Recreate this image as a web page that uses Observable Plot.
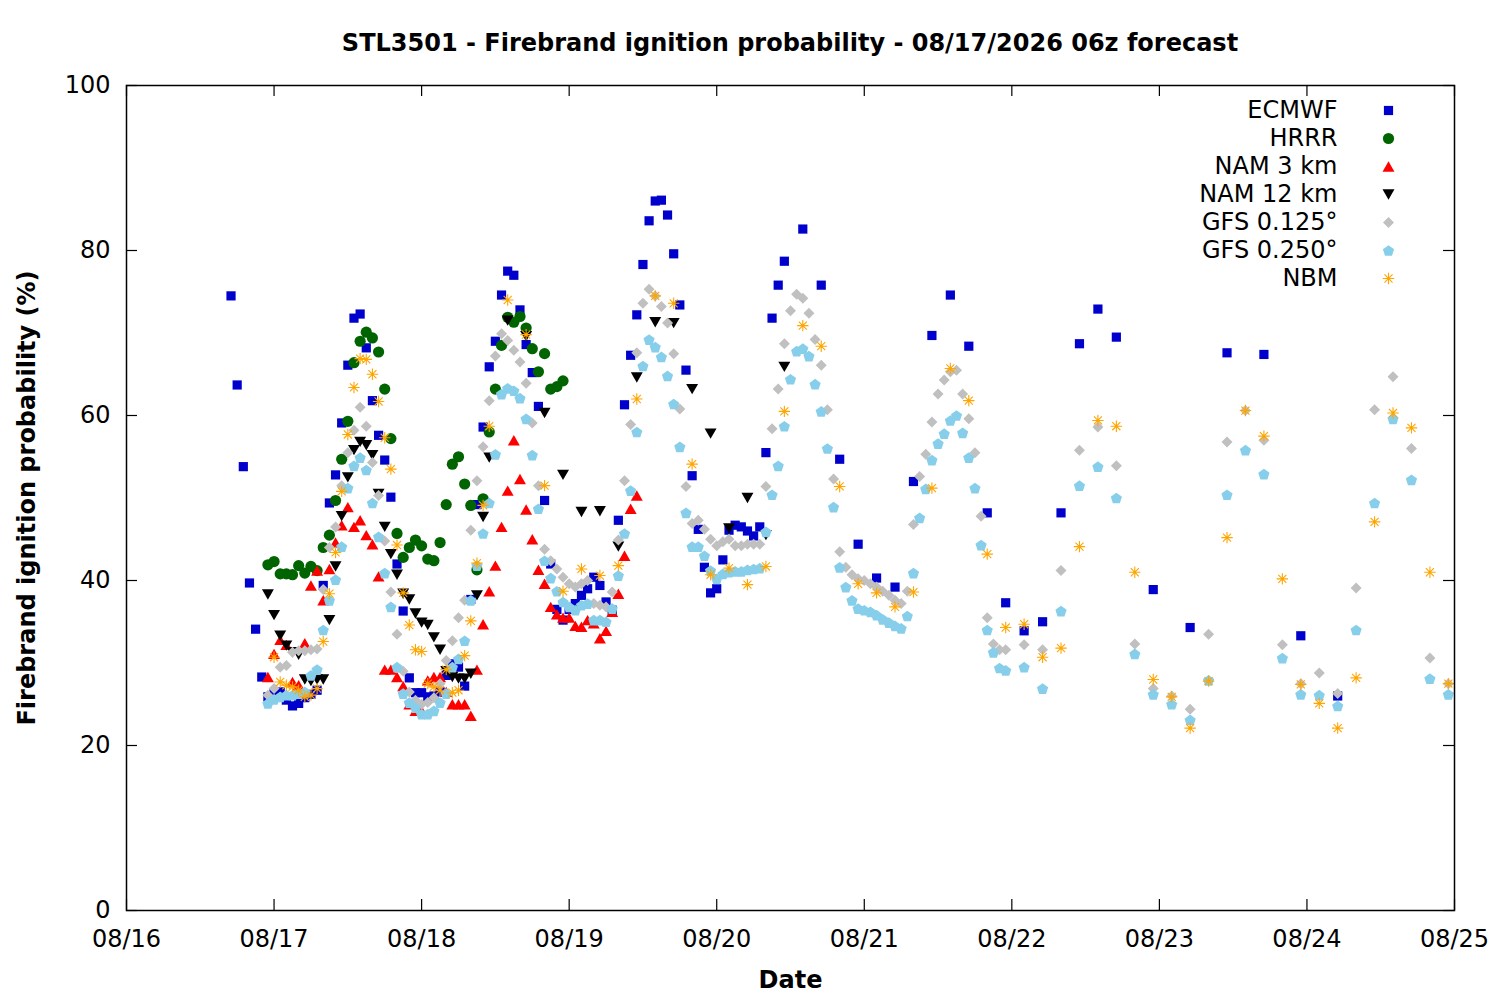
<!DOCTYPE html>
<html>
<head>
<meta charset="utf-8">
<script src="https://cdn.jsdelivr.net/npm/d3@7"></script>
<script src="https://cdn.jsdelivr.net/npm/@observablehq/plot@0.6"></script>
<style>
  body { margin: 0; background: #fff; font-family: "DejaVu Sans", sans-serif; }
  #title { margin-left: 126px; width: 1328px; height: 60px; line-height: 86px; text-align: center;
           font-weight: bold; font-size: 24px; white-space: nowrap; overflow: visible; }
  #chart svg { display: block; }
</style>
</head>
<body>
<div id="title">STL3501 - Firebrand ignition probability - 08/17/2026 06z forecast</div>
<div id="chart"></div>
<script>
// ---------- data (hours after 08/16 00:00, values in %) ----------
const seriesNames = ["ECMWF", "HRRR", "NAM 3 km", "NAM 12 km", "GFS 0.125°", "GFS 0.250°", "NBM"];
const dayTickLabels = ["08/16","08/17","08/18","08/19","08/20","08/21","08/22","08/23","08/24","08/25"];
const yTicks = [0, 20, 40, 60, 80, 100];

const ecmwfHours = [...d3.range(17, 108), ...d3.range(110, 162, 3), ...d3.range(167, 198, 6)];
const ecmwfValues = [
  74.5, 63.7, 53.8, 39.7, 34.1, 28.3, 25.9, 26.3, 26.5, 25.5,
  24.8, 25.1, 25.8, 26.2, 26.7, 39.4, 49.4, 52.8, 59.1, 66.1,
  71.8, 72.3, 68.2, 61.8, 57.6, 54.6, 50.1, 42.0, 36.3, 28.2,
  26.4, 26.4, 25.9, 26.0, 26.5, 28.5, 29.9, 29.5, 27.2, 37.7,
  49.2, 58.6, 65.9, 69.0, 74.6, 77.5, 77.0, 72.8, 68.6, 65.2,
  61.1, 49.7, 42.0, 36.5, 35.2, 36.5, 37.2, 38.2, 39.0, 40.4,
  39.4, 37.4, 36.4, 47.3, 61.3, 67.3, 72.2, 78.3, 83.6, 86.0,
  86.1, 84.3, 79.6, 73.4, 65.5, 52.7, 46.2, 41.6, 38.5, 39.0,
  42.5, 46.1, 46.7, 46.5, 46.0, 45.4, 46.5, 55.5, 71.8, 75.8,
  78.7,
  82.6, 75.8, 54.7, 44.4, 40.3, 39.2, 52.0, 69.7, 74.6, 68.4,
  48.2, 37.3, 33.9, 35.0, 48.2, 68.7, 72.9, 69.5,
  38.9, 34.3, 67.6, 67.4, 33.3, 26.0
];

const hrrrHours = d3.range(23, 72);
const hrrrValues = [
  41.9, 42.3, 40.8, 40.8, 40.7, 41.8, 40.9, 41.7, 41.2, 44.0,
  45.5, 49.7, 54.7, 59.3, 66.4, 69.0, 70.1, 69.4, 67.7, 63.2,
  57.2, 45.7, 42.8, 44.0, 44.9, 44.2, 42.6, 42.4, 44.6, 49.2,
  54.1, 55.0, 51.7, 49.1, 41.3, 49.9, 58.0, 63.2, 68.5, 71.9,
  71.3, 72.0, 70.6, 68.1, 65.3, 67.5, 63.2, 63.5, 64.2
];

const nam3Hours = d3.range(23, 84);
const nam3Values = [
  28.3, 31.1, 32.8, 32.2, 27.7, 27.3, 32.4, 39.4, 41.2, 37.6,
  41.4, 44.6, 46.7, 48.9, 46.5, 47.3, 45.5, 44.4, 40.5, 29.2,
  29.2, 28.3, 27.2, 25.0, 24.2, 24.2, 27.9, 28.3, 28.3, 26.5,
  25.0, 25.0, 25.0, 23.6, 29.2, 34.7, 38.7, 41.8, 46.5, 50.9,
  57.0, 52.3, 48.6, 45.0, 41.3, 39.6, 36.8, 35.9, 35.5, 35.5,
  34.5, 34.4, 35.2, 34.8, 33.0, 33.9, 36.2, 38.4, 43.0, 48.7,
  50.3
];

const nam12Hours = [...d3.range(23, 60), ...d3.range(62, 108, 3)];
const nam12Values = [
  38.3, 35.8, 33.3, 32.1, 31.3, 31.0, 28.0, 27.8, 28.0, 28.0,
  35.2, 41.7, 47.8, 52.5, 55.8, 56.8, 56.4, 55.2, 50.5, 46.5,
  43.2, 40.7, 38.4, 37.7, 36.0, 34.9, 34.6, 33.1, 31.6, 29.0,
  28.3, 28.1, 28.1, 28.7, 38.2, 47.7, 54.9,
  71.5, 69.6, 60.3, 52.8, 48.3, 48.4, 44.1, 64.6, 71.3, 71.2,
  63.2, 57.8, 46.3, 50.0, 45.5, 65.9
];

const gfs125Hours = [...d3.range(23, 144), ...d3.range(146, 216, 3)];
const gfs125Values = [
  26.1, 26.9, 29.5, 29.7, 31.3, 31.5, 31.5, 31.6, 31.7, 38.9,
  44.0, 46.5, 51.5, 55.5, 58.2, 61.0, 58.7, 54.3, 50.3, 44.8,
  38.6, 33.5, 29.0, 26.5, 25.5, 25.0, 25.2, 25.8, 27.5, 30.3,
  32.7, 35.5, 37.6, 46.1, 52.1, 56.2, 61.8, 67.2, 69.9, 69.1,
  67.9, 66.5, 63.9, 59.1, 51.5, 43.8, 42.4, 41.4, 40.4, 39.6,
  39.2, 39.6, 40.0, 37.2, 37.0, 36.8, 38.6, 44.9, 52.1, 58.9,
  67.6, 73.6, 75.3, 74.5, 73.2, 71.2, 67.5, 60.8, 51.4, 46.9,
  47.3, 46.2, 45.0, 44.2, 44.7, 45.0, 44.2, 44.2, 44.4, 44.4,
  44.4, 51.4, 58.4, 63.2, 68.7, 72.7, 74.7, 74.2, 72.4, 69.2,
  66.1, 60.7, 52.3, 43.5, 41.6, 40.7, 40.2, 40.0, 39.6, 39.2,
  38.7, 38.2, 37.6, 37.2, 38.7, 46.8, 52.6, 55.3, 59.2, 62.6,
  64.3, 65.3, 65.5, 62.6, 59.6, 55.5, 47.8, 35.5, 32.3, 31.6,
  31.6,
  32.2, 31.6, 41.2, 55.8, 58.6, 53.9, 32.3, 26.9, 26.0, 24.4,
  33.5, 56.8, 60.6, 57.0, 32.2, 27.5, 28.8, 26.3, 39.1, 60.7,
  64.7, 56.0, 30.6, 27.5
];

const gfs250Hours = [...d3.range(23, 144), ...d3.range(146, 216, 3)];
const gfs250Values = [
  25.1, 25.6, 25.9, 26.1, 26.1, 26.3, 26.5, 28.5, 29.2, 34.0,
  37.6, 40.1, 44.1, 51.2, 53.9, 54.9, 53.4, 49.4, 45.3, 40.9,
  36.8, 29.5, 26.3, 25.2, 24.6, 23.8, 23.8, 24.2, 25.2, 26.3,
  29.5, 30.5, 32.7, 37.6, 41.8, 45.7, 49.4, 55.3, 62.6, 63.3,
  63.0, 62.1, 59.6, 55.2, 48.7, 42.4, 40.3, 38.7, 37.4, 36.8,
  36.4, 37.0, 37.2, 35.2, 35.2, 35.0, 36.6, 40.6, 45.7, 50.9,
  58.0, 66.0, 69.2, 68.3, 67.1, 64.8, 61.4, 56.2, 48.2, 44.1,
  44.1, 43.0, 41.2, 40.2, 40.8, 41.0, 41.1, 41.1, 41.3, 41.4,
  41.5, 45.9, 50.4, 53.9, 58.7, 64.4, 67.8, 68.1, 67.2, 63.8,
  60.5, 56.0, 48.9, 41.6, 39.2, 37.6, 36.6, 36.4, 36.2, 35.8,
  35.3, 34.9, 34.5, 34.2, 35.7, 40.9, 47.6, 51.1, 54.6, 56.6,
  57.8, 59.4, 60.0, 57.9, 54.9, 51.2, 44.3, 34.0, 31.3, 29.4,
  29.1,
  29.5, 26.9, 36.3, 51.5, 53.8, 50.0, 31.1, 26.2, 25.0, 23.1,
  27.9, 50.4, 55.8, 52.9, 30.6, 26.2, 26.1, 24.8, 34.0, 49.4,
  59.6, 52.2, 28.1, 26.2
];

const nbmHours = [...d3.range(24, 60), ...d3.range(62, 216, 3)];
const nbmValues = [
  30.7, 27.7, 27.3, 27.1, 26.7, 25.9, 26.1, 26.9, 32.6, 38.4,
  43.4, 50.8, 57.7, 63.4, 66.9, 66.8, 65.0, 61.7, 57.3, 53.5,
  44.3, 38.5, 34.6, 31.6, 31.4, 27.5, 27.1, 26.7, 29.2, 26.4,
  26.7, 30.9, 35.1, 42.1, 49.1, 58.7,
  74.0, 69.8, 51.5, 38.7, 41.4, 40.6, 41.8, 62.0, 74.5, 73.6,
  54.1, 40.7, 41.5, 39.5, 41.7, 60.5, 70.9, 68.4, 51.4, 39.6,
  38.5, 36.8, 38.6, 51.2, 65.7, 61.8, 43.2, 34.3, 34.7, 30.7,
  31.8, 44.1, 59.4, 58.7, 41.0, 28.0, 25.9, 22.1, 27.8, 45.2,
  60.6, 57.5, 40.2, 27.4, 25.1, 22.1, 28.2, 47.1, 60.3, 58.5,
  41.0, 27.5
];

// ---------- helpers ----------
const base = Date.UTC(2026, 7, 16);
const toDate = h => new Date(base + h * 3600e3);
const rows = (hours, values) => hours.map((h, i) => ({t: toDate(h), v: values[i]}));
const dayTicks = dayTickLabels.map((s, i) => toDate(24 * i));

const sym = fn => ({draw(c, size) { const r = Math.sqrt(size / Math.PI); fn(c, r); }});
const symSquare = sym((c, r) => { c.rect(-r, -r, 2 * r, 2 * r); });
const symCircle = sym((c, r) => { c.moveTo(r, 0); c.arc(0, 0, r, 0, 2 * Math.PI); });
const symTriUp = sym((c, r) => { c.moveTo(0, -0.75 * r); c.lineTo(0.866 * r, 0.75 * r); c.lineTo(-0.866 * r, 0.75 * r); c.closePath(); });
const symTriDown = sym((c, r) => { c.moveTo(0, 0.75 * r); c.lineTo(0.866 * r, -0.75 * r); c.lineTo(-0.866 * r, -0.75 * r); c.closePath(); });
const symDiamond = sym((c, r) => { c.moveTo(0, -r); c.lineTo(r, 0); c.lineTo(0, r); c.lineTo(-r, 0); c.closePath(); });
const symPentagon = sym((c, r) => {
  for (let k = 0; k < 5; k++) {
    const a = -Math.PI / 2 + k * 2 * Math.PI / 5;
    const px = r * Math.cos(a), py = r * Math.sin(a) + 0.1 * r;
    if (k === 0) c.moveTo(px, py); else c.lineTo(px, py);
  }
  c.closePath();
});
const symAsterisk = sym((c, r) => {
  const d = r * Math.SQRT1_2;
  c.moveTo(-r, 0); c.lineTo(r, 0);
  c.moveTo(0, -r); c.lineTo(0, r);
  c.moveTo(-d, -d); c.lineTo(d, d);
  c.moveTo(-d, d); c.lineTo(d, -d);
});

const styles = [
  {data: rows(ecmwfHours, ecmwfValues), symbol: symSquare, r: 4.6, fill: "#0000cd", stroke: "none"},
  {data: rows(hrrrHours, hrrrValues), symbol: symCircle, r: 5.6, fill: "#006400", stroke: "none"},
  {data: rows(nam3Hours, nam3Values), symbol: symTriUp, r: 6.9, fill: "#ff0000", stroke: "none"},
  {data: rows(nam12Hours, nam12Values), symbol: symTriDown, r: 6.9, fill: "#000000", stroke: "none"},
  {data: rows(gfs125Hours, gfs125Values), symbol: symDiamond, r: 5.5, fill: "#c0c0c0", stroke: "none"},
  {data: rows(gfs250Hours, gfs250Values), symbol: symPentagon, r: 5.9, fill: "#87ceeb", stroke: "none"},
  {data: rows(nbmHours, nbmValues), symbol: symAsterisk, r: 5.7, fill: "none", stroke: "#ffa500", strokeWidth: 1.1}
];

// ---------- layout ----------
const W = 1500, H = 940, ML = 126, MR = 46, MT = 25, MB = 90;
const innerW = W - ML - MR, innerH = H - MT - MB;
const TL = 11;

const marks = [
  Plot.ruleX(dayTicks, {x: d => d, stroke: "black", strokeWidth: 1.2, insetTop: innerH - TL}),
  Plot.ruleX(dayTicks, {x: d => d, stroke: "black", strokeWidth: 1.2, insetBottom: innerH - TL}),
  Plot.ruleY(yTicks, {y: d => d, stroke: "black", strokeWidth: 1.2, insetRight: innerW - TL}),
  Plot.ruleY(yTicks, {y: d => d, stroke: "black", strokeWidth: 1.2, insetLeft: innerW - TL}),
  Plot.axisX({ticks: dayTicks, tickFormat: (d, i) => dayTickLabels[i], tickSize: 0, tickPadding: 19, label: null, fontSize: 24}),
  Plot.axisY({ticks: yTicks, tickSize: 0, tickPadding: 16, label: null, fontSize: 24})
];

styles.forEach(s => {
  marks.push(Plot.dot(s.data, {x: "t", y: "v", symbol: s.symbol, r: s.r, fill: s.fill, stroke: s.stroke, strokeWidth: s.strokeWidth}));
});

styles.forEach((s, i) => {
  marks.push(Plot.text([seriesNames[i]], {frameAnchor: "top-right", dx: -117, dy: 25 + 28 * i, text: d => d,
    textAnchor: "end", lineAnchor: "middle", fontSize: 24, fill: "black"}));
  marks.push(Plot.dot([0], {frameAnchor: "top-right", dx: -66, dy: 25 + 28 * i, symbol: s.symbol, r: s.r,
    fill: s.fill, stroke: s.stroke, strokeWidth: s.strokeWidth}));
});

marks.push(Plot.text(["Firebrand ignition probability (%)"], {frameAnchor: "left", dx: -99, rotate: -90, text: d => d,
  textAnchor: "middle", lineAnchor: "middle", fontWeight: "bold", fontSize: 24, fill: "black"}));
marks.push(Plot.text(["Date"], {frameAnchor: "bottom", dy: 70, text: d => d, textAnchor: "middle", lineAnchor: "middle",
  fontWeight: "bold", fontSize: 24, fill: "black"}));
marks.push(Plot.frame({stroke: "black", strokeWidth: 1.5}));

const chart = Plot.plot({
  width: W, height: H,
  marginLeft: ML, marginRight: MR, marginTop: MT, marginBottom: MB,
  style: {fontFamily: "DejaVu Sans", fontSize: "24px", background: "white", color: "black", overflow: "visible"},
  x: {type: "utc", domain: [toDate(0), toDate(216)]},
  y: {domain: [0, 100]},
  marks
});
document.getElementById("chart").appendChild(chart);
</script>
</body>
</html>
